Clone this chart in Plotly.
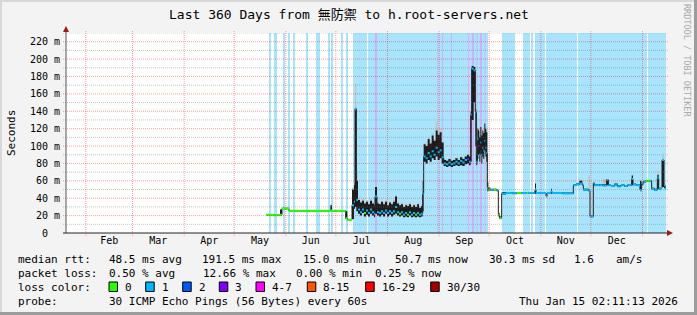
import numpy as np
import pandas as pd
import plotly.graph_objects as go

# ---------------- data ----------------
START = pd.Timestamp("2025-01-20 02:11:13")
SPAN_DAYS = 360

# days since START
day = [120.0, 125.0, 128.4, 129.6, 133.8, 145.0, 158.6, 159.6, 167.8, 168.8, 171.6, 172.8, 173.4, 174.2,
       175.2, 176.4, 177.6, 178.8, 180.0, 181.2, 182.4, 183.6, 184.8, 185.4, 186.6, 187.8, 189.0, 190.2, 191.4,
       192.6, 193.8, 195.0, 196.2, 197.4, 198.6, 199.8, 201.0, 202.2, 203.4, 204.6, 205.8, 207.0, 208.2, 209.4,
       210.6, 211.8, 213.0, 214.0,
       214.6, 215.8, 217.0, 218.2, 219.4, 220.6, 221.8, 223.0, 224.2, 225.4, 226.6, 228.0, 229.4, 230.8, 232.2,
       233.6, 235.0, 236.4, 237.8, 239.2, 240.6, 241.8,
       242.8, 243.4, 244.6, 245.6, 246.2, 246.8, 247.4, 248.0, 248.6, 249.2, 249.8, 250.4, 251.0, 251.6, 252.2, 252.8,
       253.4, 254.6, 256.4, 258.4, 259.4, 260.2, 261.4, 264.0, 268.0, 270.4, 273.4, 276.6, 277.6, 281.0, 281.4,
       282.0, 288.0, 288.6, 291.0, 291.6, 298.0, 304.4, 306.0, 308.0, 309.8, 310.4, 313.4, 314.4, 316.4, 317.0,
       320.0, 322.0, 324.4, 325.4, 327.0, 329.0, 331.0, 333.0, 335.0, 337.0, 339.4, 340.2, 342.0, 344.4, 345.2,
       346.4, 348.0, 350.4, 351.4, 353.0, 354.4, 354.8, 355.6, 357.0, 357.6, 358.8, 359.4, 360.0]

median_ms = [21, 20.5, 21, 28, 25.5, 25.5, 26, 25.5, 17, 15.2, 32, 36, 143, 38,
             27, 24, 27, 23, 26, 23, 27, 24, 22, 42, 24, 23, 25, 23, 26,
             23, 25, 23, 25, 30, 24, 22, 24, 21, 23, 21, 24, 21, 23, 21,
             23, 21, 22, 45,
             88, 86, 92, 88, 94, 90, 98, 93, 95, 87, 80, 79, 81, 79, 80,
             82, 80, 83, 81, 84, 85, 82,
             136, 189, 187, 139, 82, 108, 100, 90, 104, 90, 98, 95, 106, 98, 92, 52,
             50, 49.5, 50, 49, 21, 17, 45, 46, 45.5, 46, 46, 46, 46, 46, 50,
             46, 42, 46, 48, 46, 45.5, 55, 56, 57, 55, 50, 49, 19, 57, 55,
             55, 54.5, 61, 55, 54, 55, 53.5, 55, 54, 55, 62, 56, 55, 49.5, 57,
             59, 60, 60, 51, 49.5, 50, 63, 51, 52, 84, 55, 51, 51]

smoke_lo = [21, 20.5, 20, 27.5, 25, 25, 25, 25, 16, 15, 16, 28, 30, 25,
            22, 20, 23, 19, 21, 19, 22, 20, 18, 22, 20, 19, 21, 19, 22,
            19, 21, 19, 21, 22, 20, 19, 20, 18, 19, 18, 20, 18, 19, 18,
            19, 18, 19, 25,
            82, 80, 84, 82, 86, 84, 88, 84, 86, 80, 77, 76, 77, 76, 77,
            78, 77, 78, 77, 79, 80, 78,
            82, 130, 150, 100, 78, 85, 90, 82, 95, 80, 88, 85, 95, 88, 82, 48,
            49, 49, 49, 48, 19, 16, 44, 45, 45, 45, 45, 45, 45, 45, 45,
            45, 41, 45, 45, 45, 45, 54, 55, 56, 54, 49, 48, 18, 55, 54,
            54, 54, 55, 54, 53, 54, 53, 54, 53, 54, 55, 55, 54, 48, 55,
            58, 59, 59, 50, 49, 49, 51, 50, 51, 53, 52, 50, 50]

smoke_hi = [21, 20.5, 27, 29, 26, 26, 32, 26, 25, 16, 50, 55, 141, 60,
            38, 35, 37, 34, 36, 33, 37, 34, 32, 53, 34, 33, 36, 33, 36,
            32, 35, 33, 36, 42, 34, 32, 33, 30, 32, 31, 33, 30, 32, 30,
            33, 29, 31, 60,
            102, 100, 108, 103, 112, 106, 118, 113, 116, 104, 84, 83, 85, 83, 84,
            86, 84, 87, 85, 88, 90, 88,
            140, 192, 191, 142, 90, 120, 118, 110, 122, 112, 118, 115, 126, 120, 116, 58,
            52, 51, 51, 50, 23, 19, 47, 47, 46.5, 47, 47, 47, 47, 47, 57,
            47, 43, 47, 51, 47, 46.5, 56, 57, 60, 56, 51, 50, 20, 58, 56,
            56, 56, 62, 56, 55, 57, 55, 56, 55, 56, 66, 57, 56, 60, 58,
            60, 61, 61, 52, 51, 51, 67, 52, 53, 84, 56, 52, 52]

smoke_top = [21, 20.5, 27, 29, 26, 26, 33, 26, 25, 16, 52, 58, 172, 70,
             40, 37, 39, 36, 38, 35, 39, 36, 33, 54, 36, 35, 37, 35, 38,
             34, 36, 35, 38, 44, 36, 34, 35, 32, 34, 33, 35, 32, 34, 32,
             35, 31, 33, 62,
             104, 102, 110, 106, 115, 108, 128, 116, 120, 106, 85, 84, 86, 84, 85,
             87, 85, 88, 86, 89, 91, 89,
             141, 193, 192, 143, 92, 122, 120, 112, 124, 114, 120, 117, 128, 122, 118, 60,
             53, 51, 51, 50, 23, 19, 47, 47, 46.5, 47, 47, 47, 47, 47, 57,
             47, 43, 47, 51, 47, 46.5, 56, 58, 62, 56, 51, 66, 20, 58, 56,
             56, 62, 62, 56, 56, 57, 55, 57, 55, 57, 67, 57, 56, 60, 58,
             61, 61, 61, 53, 51, 51, 72, 52, 53, 90, 56, 52, 52]

loss = [0, 0, 0, 0, 0, 0, 0, 0, 0, 0, 1, 1, 1, 1,
        1, 1, 1, 0, 1, 1, 1, 1, 1, 1, 1, 1, 1, 1, 1,
        1, 1, 1, 1, 1, 1, 0, 1, 1, 1, 0, 1, 1, 1, 0,
        1, 1, 1, 1,
        1, 1, 1, 1, 1, 1, 1, 1, 1, 1, 1, 1, 1, 1, 1,
        1, 1, 1, 1, 1, 3, 1,
        1, 1, 1, 1, 1, 1, 3, 1, 1, 1, 1, 1, 1, 1, 1, 1,
        0, 1, 0, 1, 0, 0, 1, 1, 1, 0, 1, 0, 1, 1, 1,
        1, 1, 1, 1, 1, 1, 1, 1, 1, 1, 1, 1, 1, 1, 1,
        1, 1, 1, 1, 1, 1, 1, 1, 1, 1, 1, 1, 1, 1, 1,
        1, 0, 1, 1, 1, 1, 1, 1, 1, 1, 1, 1, 1]

# loss background bands (days since START)
bg_start = [121.8, 124.8, 130.2, 133.2, 136.6, 144.0, 150.0, 151.4, 157.2, 159.0, 165.4, 167.8,
            172.0, 181.0, 184.2, 186.6, 201.6, 207.6, 211.2, 261.4, 274.0, 279.0, 281.4, 287.8, 307.2, 349.0,
            185.4, 222.6, 225.6, 231.0, 241.2, 243.6, 246.0, 248.4, 250.8]
bg_end = [123.0, 126.6, 131.0, 134.4, 137.4, 145.2, 150.8, 152.2, 158.0, 159.8, 166.2, 169.4,
          180.6, 183.9, 185.4, 201.3, 207.3, 210.9, 253.2, 269.4, 278.4, 280.2, 287.4, 306.8, 348.6, 360.0,
          186.6, 223.8, 226.2, 231.6, 241.8, 244.8, 247.2, 249.6, 252.0]
bg_loss = [1] * 26 + [3, 2, 3, 3, 4, 3, 2, 3, 2]

month_starts = ["2025-02-01", "2025-03-01", "2025-04-01", "2025-05-01", "2025-06-01", "2025-07-01",
                "2025-08-01", "2025-09-01", "2025-10-01", "2025-11-01", "2025-12-01", "2026-01-01"]
month_names = ["Feb", "Mar", "Apr", "May", "Jun", "Jul", "Aug", "Sep", "Oct", "Nov", "Dec"]
y_ticks = [0, 20, 40, 60, 80, 100, 120, 140, 160, 180, 200, 220]

legend_levels = ["0", "1", "2", "3", "4-7", "8-15", "16-29", "30/30"]

assert len(day) == len(median_ms) == len(smoke_lo) == len(smoke_hi) == len(smoke_top) == len(loss)
assert len(bg_start) == len(bg_end) == len(bg_loss)

# ---------------- style ----------------
LOSS_COL = {0: "#26ff00", 1: "#00b8ff", 2: "#0059ff", 3: "#7e00ff", 4: "#ff00ff"}
BG_COL = {1: "#a8e4fb", 2: "#b9cdf9", 3: "#c9b4fb", 4: "#ff9cff"}
LEG_COL = ["#26ff00", "#00b8ff", "#0059ff", "#7e00ff", "#ff00ff", "#ff5500", "#ff0000", "#a10000"]
MONO = "DejaVu Sans Mono, Noto Sans CJK TC, monospace"

W, H = 697, 315
L, R, T, B = 66, 666, 33, 233  # plot area in pixels


def PX(x):
    return (x - L) / (R - L)


def PY(y):
    return (B - y) / (B - T)


def ts(d):
    return START + pd.Timedelta(days=float(d))


fig = go.Figure()

# background loss bands
for lvl in sorted(set(bg_loss)):
    idx = [i for i, l in enumerate(bg_loss) if l == lvl]
    fig.add_bar(
        x=[ts((bg_start[i] + bg_end[i]) / 2) for i in idx],
        y=[230] * len(idx),
        width=[(bg_end[i] - bg_start[i]) * 86400000 for i in idx],
        marker=dict(color=BG_COL[lvl], line=dict(width=0)),
        hoverinfo="skip",
    )

tx = [ts(d) for d in day]
# light smoke
fig.add_scatter(x=tx, y=smoke_hi, mode="lines", line=dict(width=0, shape="hv"), hoverinfo="skip")
fig.add_scatter(x=tx, y=smoke_top, mode="lines", line=dict(width=0, shape="hv"), fill="tonexty",
                fillcolor="#c4c4c4", hoverinfo="skip")
# dark smoke
fig.add_scatter(x=tx, y=smoke_lo, mode="lines", line=dict(width=0, shape="hv"), hoverinfo="skip")
fig.add_scatter(x=tx, y=smoke_hi, mode="lines", line=dict(width=0, shape="hv"), fill="tonexty",
                fillcolor="#1c1c1c", hoverinfo="skip")
# median step line (connectors)
fig.add_scatter(x=tx, y=median_ms, mode="lines", line=dict(width=1, color="#202020", shape="hv"),
                hoverinfo="skip")
# median coloured by loss
for lvl in sorted(set(loss)):
    xs, ys = [], []
    for i in range(len(day) - 1):
        if loss[i] == lvl:
            xs += [tx[i], tx[i + 1], None]
            ys += [median_ms[i], median_ms[i], None]
    fig.add_scatter(x=xs, y=ys, mode="lines", line=dict(width=2, color=LOSS_COL[lvl]), hoverinfo="skip")

shapes = []
# horizontal grid
for v in range(10, 231, 10):
    major = v % 20 == 0
    shapes.append(dict(type="line", xref="paper", yref="y", x0=PX(63), x1=PX(669), y0=v, y1=v,
                       line=dict(color="rgba(255,0,0,0.38)" if major else "rgba(120,120,120,0.42)",
                                 width=1, dash="1px,1px"), layer="above"))
# vertical month grid
for m in month_starts:
    shapes.append(dict(type="line", xref="x", yref="paper", x0=m, x1=m, y0=PY(236), y1=PY(31),
                       line=dict(color="rgba(255,0,0,0.38)", width=1, dash="1px,1px"), layer="above"))
# axes
shapes.append(dict(type="line", xref="paper", yref="paper", x0=0, x1=0, y0=PY(233), y1=PY(29),
                   line=dict(color="#555555", width=1), layer="above"))
shapes.append(dict(type="line", xref="paper", yref="paper", x0=PX(63), x1=PX(670), y0=0, y1=0,
                   line=dict(color="#222222", width=1), layer="above"))
# arrows
shapes.append(dict(type="path", xref="paper", yref="paper",
                   path=f"M {PX(63)} {PY(32)} L {PX(69)} {PY(32)} L {PX(66)} {PY(26)} Z",
                   fillcolor="#a01818", line=dict(width=0), layer="above"))
shapes.append(dict(type="path", xref="paper", yref="paper",
                   path=f"M {PX(667)} {PY(230)} L {PX(667)} {PY(236)} L {PX(673)} {PY(233)} Z",
                   fillcolor="#a01818", line=dict(width=0), layer="above"))
# frame
shapes.append(dict(type="rect", xref="paper", yref="paper", x0=PX(0), x1=PX(697), y0=PY(0), y1=PY(2),
                   fillcolor="#d8d8d8", line=dict(width=0), layer="above"))
shapes.append(dict(type="rect", xref="paper", yref="paper", x0=PX(0), x1=PX(2), y0=PY(0), y1=PY(315),
                   fillcolor="#d8d8d8", line=dict(width=0), layer="above"))
shapes.append(dict(type="rect", xref="paper", yref="paper", x0=PX(694), x1=PX(697), y0=PY(0), y1=PY(315),
                   fillcolor="#9c9c9c", line=dict(width=0), layer="above"))
shapes.append(dict(type="rect", xref="paper", yref="paper", x0=PX(0), x1=PX(697), y0=PY(312), y1=PY(315),
                   fillcolor="#9c9c9c", line=dict(width=0), layer="above"))

annotations = []


def text(s, x, y, size=11, anchor="left", color="black", angle=0, yanchor="middle"):
    annotations.append(dict(text=s, x=PX(x), y=PY(y), xref="paper", yref="paper", showarrow=False,
                            xanchor=anchor, yanchor=yanchor, textangle=angle,
                            font=dict(family=MONO, size=size, color=color)))


text("Last 360 Days from 無防禦 to h.root-servers.net", 348.5, 15, size=13, anchor="center")
text("Seconds", 11, 133, size=11, anchor="center", angle=-90)
text("RRDTOOL / TOBI OETIKER", 687, 60, size=8.5, anchor="center", angle=90, color="#a8a8a8")

# legend lines
row1 = [("median rtt:", 16), ("48.5 ms avg", 107.3), ("191.5 ms max", 200), ("15.0 ms min", 301),
        ("50.7 ms now", 393.3), ("30.3 ms sd", 486.7), ("1.6", 572.3), ("am/s", 614)]
row2 = [("packet loss:", 16), ("0.50 % avg", 107.3), ("12.66 % max", 200.7), ("0.00 % min", 293.5),
        ("0.25 % now", 373)]
for s, x in row1:
    text(s, x, 259)
for s, x in row2:
    text(s, x, 273)
text("loss color:", 16, 287)
sq_x = [109, 145.7, 182.7, 219.3, 256, 307.3, 365.7, 430.7]
for lab, col, x in zip(legend_levels, LEG_COL, sq_x):
    shapes.append(dict(type="rect", xref="paper", yref="paper", x0=PX(x), x1=PX(x + 8.5), y0=PY(282),
                       y1=PY(291.5), fillcolor=col, line=dict(color="black", width=1), layer="above"))
    text(lab, x + 14, 287)
text("probe:", 16, 301)
text("30 ICMP Echo Pings (56 Bytes) every 60s", 107.3, 301)
text("Thu Jan 15 02:11:13 2026", 680, 301, anchor="right")

# month label positions at mid-month
ms = pd.to_datetime(month_starts)
mid = [ms[i] + (ms[i + 1] - ms[i]) / 2 for i in range(len(ms) - 1)]

fig.update_layout(
    width=W, height=H,
    margin=dict(l=L, r=W - R, t=T, b=H - B, pad=0),
    paper_bgcolor="#f3f3f3", plot_bgcolor="white",
    showlegend=False, barmode="overlay", bargap=0,
    shapes=shapes, annotations=annotations,
    xaxis=dict(type="date", range=[START, START + pd.Timedelta(days=SPAN_DAYS)], showgrid=False,
               zeroline=False, showline=False, tickmode="array", tickvals=mid, ticktext=month_names,
               ticks="", tickfont=dict(family=MONO, size=10, color="black"), fixedrange=True),
    yaxis=dict(range=[0, 230], showgrid=False, zeroline=False, showline=False, tickmode="array",
               tickvals=y_ticks, ticktext=["0\u00a0\u00a0"] + [f"{v} m" for v in y_ticks[1:]],
               ticks="", tickfont=dict(family=MONO, size=10, color="black"), fixedrange=True,
               ticklabelstandoff=5),
)

fig.write_html("out.html", config={"displayModeBar": False})
